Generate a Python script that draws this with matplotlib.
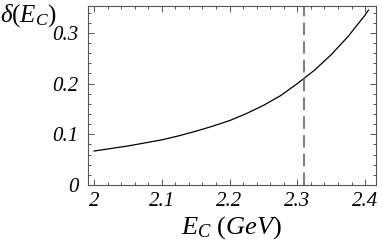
import numpy as np
from matplotlib import pyplot as plt
from matplotlib.ticker import MultipleLocator

# values
energy = [2.0, 2.025, 2.05, 2.075, 2.1, 2.125, 2.15, 2.175, 2.2, 2.225,
          2.25, 2.275, 2.3, 2.325, 2.35, 2.375, 2.4, 2.405]
delta = [0.067, 0.072, 0.077, 0.083, 0.089, 0.097, 0.106, 0.116, 0.127, 0.141,
         0.157, 0.176, 0.200, 0.226, 0.257, 0.293, 0.335, 0.345]
e_mark = 2.31
x_ticks = [2.0, 2.1, 2.2, 2.3, 2.4]
x_labels = ['2', '2.1', '2.2', '2.3', '2.4']
y_ticks = [0.0, 0.1, 0.2, 0.3]
y_labels = ['0', '0.1', '0.2', '0.3']

plt.rcParams['font.family'] = ['Liberation Serif', 'DejaVu Serif']
plt.rcParams['mathtext.fontset'] = 'custom'
plt.rcParams['mathtext.it'] = 'Liberation Serif:italic'
plt.rcParams['mathtext.rm'] = 'Liberation Serif'

fig = plt.figure(figsize=(3.82, 2.44), dpi=100)
ax = fig.add_axes([0.2304, 0.2418, 0.7536, 0.7336])

ax.plot(energy, delta, color='black', lw=0.9)
ax.axvline(e_mark, color='#808080', lw=1.5, dashes=(6, 3))

ax.set_xlim(1.991, 2.416)
ax.set_ylim(0, 0.353)
ax.set_xticks(x_ticks)
ax.set_xticklabels(x_labels, fontstyle='italic', fontsize=15)
ax.set_yticks(y_ticks)
ax.set_yticklabels(y_labels, fontstyle='italic', fontsize=15)
ax.xaxis.set_minor_locator(MultipleLocator(0.02))
ax.yaxis.set_minor_locator(MultipleLocator(0.02))
ax.tick_params(which='both', direction='in', top=True, right=True,
               color='#555555', width=0.7)
ax.tick_params(which='major', length=4)
ax.tick_params(axis='y', which='major', pad=7)
ax.tick_params(axis='x', which='major', pad=5)
ax.tick_params(which='minor', length=2)
for s in ax.spines.values():
    s.set_color('#555555')
    s.set_linewidth(0.8)

ax.set_xlabel(r'$E_{C}\ (GeV)$', fontsize=19, labelpad=2)
fig.text(0.0, 0.935, r'$\delta(E_{C})$', fontsize=18, ha='left', va='center')

plt.savefig('out.png', dpi=100)
